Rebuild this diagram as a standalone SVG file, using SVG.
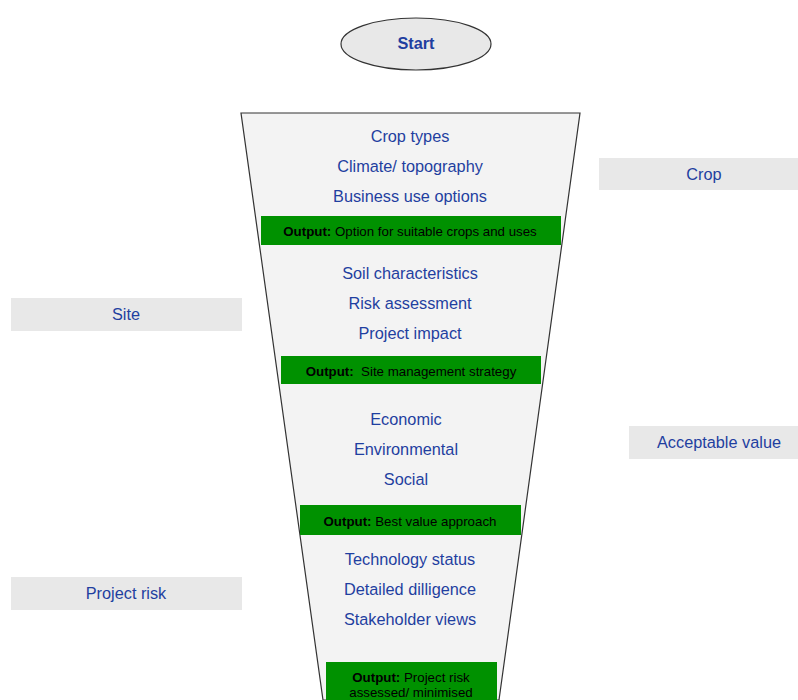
<svg xmlns="http://www.w3.org/2000/svg" width="798" height="700" viewBox="0 0 798 700">
<style>
  .t{font-family:"Liberation Sans",Arial,sans-serif;font-size:16.3px;fill:#1f3fa0;text-anchor:middle}
  .o{font-family:"Liberation Sans",Arial,sans-serif;font-size:13.3px;fill:#000;text-anchor:middle}
  .b{font-weight:bold}
  .lbl{fill:#e8e8e8}
  .g{fill:#009100}
</style>
<rect width="798" height="700" fill="#fff"/>
<g id="start">
  <ellipse cx="416" cy="44" rx="75" ry="26" fill="#e8e8e8" stroke="#333" stroke-width="1.2"/>
  <text class="t b" x="416" y="49" font-size="14.5">Start</text>
</g>
<g id="funnel">
  <polygon points="241,113 580,113 499,700 323,700" fill="#f3f3f3" stroke="#333" stroke-width="1.2"/>
</g>
<g id="stage1">
  <text class="t" x="410" y="142">Crop types</text>
  <text class="t" x="410" y="172">Climate/ topography</text>
  <text class="t" x="410" y="202">Business use options</text>
  <rect class="g" x="261" y="216" width="300" height="29"/>
  <text class="o" x="410" y="235.5"><tspan class="b">Output:</tspan> Option for suitable crops and uses</text>
</g>
<g id="stage2">
  <text class="t" x="410" y="279">Soil characteristics</text>
  <text class="t" x="410" y="309">Risk assessment</text>
  <text class="t" x="410" y="339">Project impact</text>
  <rect class="g" x="281" y="356" width="260" height="28"/>
  <text class="o" x="411" y="375.5" xml:space="preserve"><tspan class="b">Output:</tspan>  Site management strategy</text>
</g>
<g id="stage3">
  <text class="t" x="406" y="425">Economic</text>
  <text class="t" x="406" y="455">Environmental</text>
  <text class="t" x="406" y="485">Social</text>
  <rect class="g" x="300" y="505" width="221" height="30"/>
  <text class="o" x="410" y="525.5"><tspan class="b">Output:</tspan> Best value approach</text>
</g>
<g id="stage4">
  <text class="t" x="410" y="565">Technology status</text>
  <text class="t" x="410" y="595">Detailed dilligence</text>
  <text class="t" x="410" y="625">Stakeholder views</text>
  <rect class="g" x="326" y="662" width="171" height="38"/>
  <text class="o" x="411" y="681.5"><tspan class="b">Output:</tspan> Project risk</text>
  <text class="o" x="411" y="696.5">assessed/ minimised</text>
</g>
<g id="label-crop">
  <rect class="lbl" x="599" y="158" width="199" height="32"/>
  <text class="t" x="704" y="180">Crop</text>
</g>
<g id="label-site">
  <rect class="lbl" x="11" y="298" width="231" height="33"/>
  <text class="t" x="126" y="320">Site</text>
</g>
<g id="label-value">
  <rect class="lbl" x="629" y="426" width="169" height="33"/>
  <text class="t" x="719" y="448">Acceptable value</text>
</g>
<g id="label-risk">
  <rect class="lbl" x="11" y="577" width="231" height="33"/>
  <text class="t" x="126" y="599">Project risk</text>
</g>
<g id="connectors"></g>
</svg>
